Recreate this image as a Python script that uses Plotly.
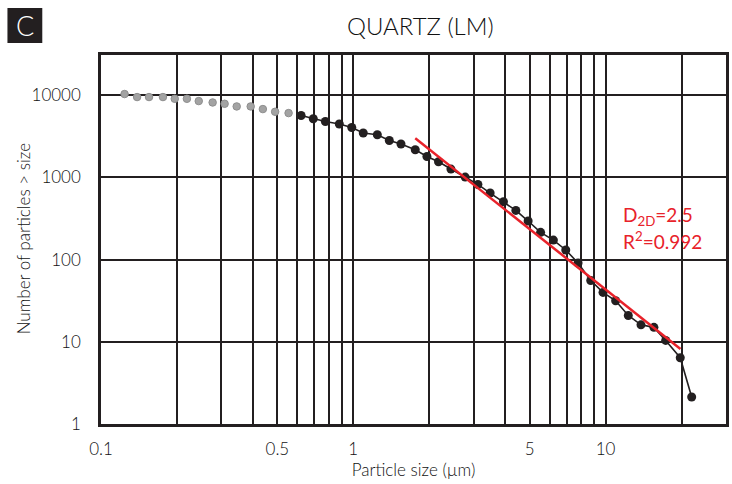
import math
import plotly.graph_objects as go

# ---- data ----
grey_x = [0.124, 0.139, 0.155, 0.176, 0.196, 0.219, 0.244, 0.277, 0.309, 0.345, 0.392, 0.438, 0.490, 0.554]
grey_y = [10350, 9510, 9510, 9510, 9060, 9060, 8500, 8170, 7880, 7310, 7310, 6790, 6300, 6070]

black_x = [0.621, 0.694, 0.775, 0.880, 0.986, 1.095, 1.245, 1.389, 1.545, 1.760, 1.958, 2.176,
           2.437, 2.776, 3.117, 3.486, 3.936, 4.408, 4.931, 5.525, 6.209, 6.952, 7.776, 8.730,
           9.765, 10.96, 12.30, 13.81, 15.54, 17.30, 19.76, 21.93]
black_y = [5680, 5180, 4800, 4465, 4050, 3470, 3310, 2820, 2550, 2170, 1800, 1552,
           1265, 1011, 822, 646, 506, 397, 295, 215, 173, 131, 91, 55.8,
           39.9, 31.6, 20.9, 16.1, 15.0, 10.4, 6.4, 2.13]

fit_x = [1.76, 19.8]
fit_y = [3000, 8.2]

x_ticks = [0.1, 0.5, 1, 5, 10]
x_labels = ["0.1", "0.5", "1", "5", "10"]
x_minor_grid = [0.2, 0.3, 0.4, 0.6, 0.7, 0.8, 0.9, 2, 3, 4, 6, 7, 8, 9, 20]
y_ticks = [1, 10, 100, 1000, 10000]
y_labels = ["1", "10", "100", "1000", "10000"]

fit_label_x = 11.5
fit_label_y = [340, 170]

INK = "#231f20"
RED = "#e8222a"
TXT = "#111111"
FONT = "Lato"
WT = 300

W, H = 732, 484
L, R, T, B = 101, 3, 55, 60
PW, PH = W - L - R, H - T - B


def px(x):
    return (x - L) / PW


def py(y):
    return 1 - (y - T) / PH


fig = go.Figure()
fig.add_trace(go.Scatter(
    x=grey_x, y=grey_y, mode="markers",
    marker=dict(size=7.5, color="#a3a3a3", line=dict(color="#8e8e8e", width=1)),
    showlegend=False))
fig.add_trace(go.Scatter(
    x=black_x, y=black_y, mode="lines+markers",
    line=dict(color=INK, width=1.6),
    marker=dict(size=9, color=INK),
    showlegend=False))
fig.add_trace(go.Scatter(
    x=fit_x, y=fit_y, mode="lines",
    line=dict(color=RED, width=2.5),
    showlegend=False))

fig.add_annotation(x=math.log10(fit_label_x), y=math.log10(fit_label_y[0]),
                   xref="x", yref="y", xanchor="left", yanchor="middle",
                   text="D<sub>2D</sub>=2.5", showarrow=False,
                   font=dict(family=FONT, size=19, color=RED, weight=400))
fig.add_annotation(x=math.log10(fit_label_x), y=math.log10(fit_label_y[1]),
                   xref="x", yref="y", xanchor="left", yanchor="middle",
                   text="R<sup>2</sup>=0.992", showarrow=False,
                   font=dict(family=FONT, size=19, color=RED, weight=400))

# title
fig.add_annotation(x=px(422), y=py(25), xref="paper", yref="paper",
                   text="QUARTZ (LM)", showarrow=False, xanchor="center", yanchor="middle",
                   font=dict(family=FONT, size=24, color=TXT, weight=WT))
# y-axis title
fig.add_annotation(x=px(24), y=py(238), xref="paper", yref="paper",
                   text="Number of particles > size", showarrow=False, textangle=-90,
                   xanchor="center", yanchor="middle",
                   font=dict(family=FONT, size=17, color=TXT, weight=WT))
# panel letter box
fig.add_shape(type="rect", xref="paper", yref="paper",
              x0=px(7), x1=px(42), y0=py(43), y1=py(8),
              fillcolor=INK, line=dict(width=0))
fig.add_annotation(x=px(24.5), y=py(25.5), xref="paper", yref="paper",
                   text="C", showarrow=False, xanchor="center", yanchor="middle",
                   font=dict(family=FONT, size=27, color="white", weight=WT))

fig.update_xaxes(type="log", range=[-1, math.log10(30)],
                 tickmode="array", tickvals=x_ticks, ticktext=x_labels,
                 showgrid=True, gridcolor=INK, gridwidth=2,
                 minor=dict(tickmode="array", tickvals=x_minor_grid, showgrid=True,
                            gridcolor=INK, gridwidth=2, ticks=""),
                 showline=True, linecolor=INK, linewidth=2.5, mirror=True,
                 ticks="outside", ticklen=8, tickcolor="rgba(0,0,0,0)",
                 tickfont=dict(family=FONT, size=17, color=TXT, weight=WT),
                 title=dict(text="Particle size (µm)", standoff=4,
                            font=dict(family=FONT, size=17, color=TXT, weight=WT)),
                 zeroline=False)
fig.update_yaxes(type="log", range=[0, 4.49],
                 tickmode="array", tickvals=y_ticks, ticktext=y_labels,
                 showgrid=True, gridcolor=INK, gridwidth=2,
                 showline=True, linecolor=INK, linewidth=2.5, mirror=True,
                 ticks="outside", ticklen=14, tickcolor="rgba(0,0,0,0)",
                 tickfont=dict(family=FONT, size=17, color=TXT, weight=WT),
                 zeroline=False)

fig.update_layout(width=W, height=H,
                  margin=dict(l=L, r=R, t=T, b=B),
                  paper_bgcolor="white", plot_bgcolor="white",
                  font=dict(family=FONT, weight=WT))

fig.write_html("out.html")
